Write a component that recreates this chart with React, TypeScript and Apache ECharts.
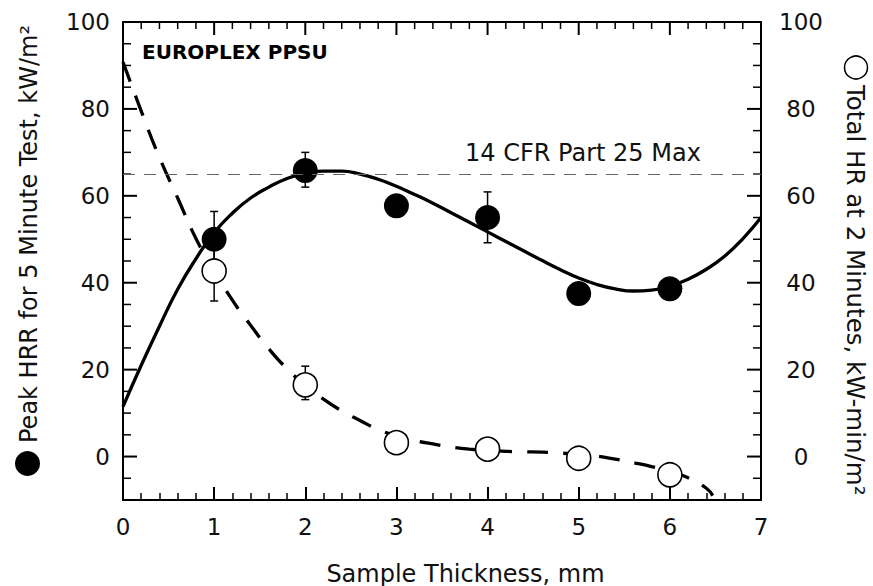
import React, { useEffect, useRef } from 'react';
import * as echarts from 'echarts';

// Measured data points
const thickness = [1, 2, 3, 4, 5, 6];
const peakHRR = [50.0, 65.8, 57.7, 55.0, 37.5, 38.6];
const totalHR = [42.7, 16.5, 3.2, 1.7, -0.4, -4.2];

// Error bars
const peakErrX = [1, 2, 4];
const peakErrLow = [43.6, 62.0, 49.2];
const peakErrHigh = [56.4, 70.0, 60.9];
const totalErrX = [1, 2];
const totalErrLow = [35.8, 13.1];
const totalErrHigh = [49.6, 20.8];

// Fitted curves
const peakFitX = [0, 0.2, 0.4, 0.6, 0.8, 1.0, 1.2, 1.4, 1.6, 1.8, 2.0, 2.2, 2.4, 2.6, 2.8, 3.0, 3.2, 3.4, 3.6, 3.8, 4.0, 4.2, 4.4, 4.6, 4.8, 5.0, 5.2, 5.4, 5.6, 5.8, 6.0, 6.2, 6.4, 6.6, 6.8, 7.0];
const peakFitY = [11.5, 21, 30, 38.5, 45.5, 51.5, 56, 59.5, 62, 64, 65.2, 65.7, 65.7, 65, 63.8, 62.2, 60.3, 58.3, 56.1, 53.9, 51.7, 49.5, 47.3, 45.1, 43.0, 41.1, 39.6, 38.6, 38.1, 38.3, 39.2, 40.8, 43.1, 46.1, 50.1, 55];
const totalFitX = [0, 0.2, 0.4, 0.6, 0.8, 1.0, 1.2, 1.4, 1.6, 1.8, 2.0, 2.2, 2.4, 2.6, 2.8, 3.0, 3.2, 3.4, 3.6, 3.8, 4.0, 4.2, 4.4, 4.6, 4.8, 5.0, 5.2, 5.4, 5.6, 5.8, 6.0, 6.2, 6.4, 6.47];
const totalFitY = [90.8, 79.5, 68.8, 59.5, 50.2, 42.8, 36, 30.2, 24.8, 20.2, 16.4, 13.2, 10.5, 8.3, 6.2, 4.8, 3.7, 2.9, 2.2, 1.7, 1.4, 1.2, 1.1, 1.0, 0.8, 0.5, 0.1, -0.6, -1.4, -2.3, -3.4, -4.9, -7.3, -9.0];

const cfrLimit = 65;

// Tick positions
const yMajorTicks = [0, 20, 40, 60, 80];
const yMinorTicks = [-5, 5, 10, 15, 25, 30, 35, 45, 50, 55, 65, 70, 75, 85, 90, 95];
const xTopMajorTicks = [1, 2, 3, 4, 5, 6];
const xTopMinorTicks = [0.2, 0.4, 0.6, 0.8, 1.2, 1.4, 1.6, 1.8, 2.2, 2.4, 2.6, 2.8, 3.2, 3.4, 3.6, 3.8, 4.2, 4.4, 4.6, 4.8, 5.2, 5.4, 5.6, 5.8, 6.2, 6.4, 6.6, 6.8];

const FONT = '"DejaVu Sans", sans-serif';

const zip = (xs: number[], ys: number[]) => xs.map((x, i) => [x, ys[i]]);

const errRender = (params: any, api: any) => {
  const x = api.value(0);
  const lo = api.coord([x, api.value(1)]);
  const hi = api.coord([x, api.value(2)]);
  const w = 4;
  const st = { stroke: '#000', lineWidth: 1.5 };
  return {
    type: 'group',
    children: [
      { type: 'line', shape: { x1: lo[0], y1: lo[1], x2: hi[0], y2: hi[1] }, style: st },
      { type: 'line', shape: { x1: lo[0] - w, y1: lo[1], x2: lo[0] + w, y2: lo[1] }, style: st },
      { type: 'line', shape: { x1: hi[0] - w, y1: hi[1], x2: hi[0] + w, y2: hi[1] }, style: st },
    ],
  };
};

const xAxisBase = (pos: string, showLabel: boolean) => ({
  type: 'value',
  position: pos,
  min: 0,
  max: 7,
  interval: 1,
  axisLine: { show: true, onZero: false, lineStyle: { color: '#000', width: 2 } },
  axisTick: { show: showLabel, inside: true, length: 13, lineStyle: { color: '#000', width: 2 } },
  minorTick: { show: showLabel, splitNumber: 5, length: 7, lineStyle: { color: '#000', width: 1.5 } },
  splitLine: { show: false },
  minorSplitLine: { show: false },
  axisLabel: { show: showLabel, fontSize: 23, fontFamily: FONT, color: '#111', margin: 15 },
});

const yLabelFmt = (v: number) => (v < 0 ? '' : String(v));

const yMain = (pos: string) => ({
  type: 'value',
  position: pos,
  min: -10,
  max: 100,
  splitNumber: 5,
  axisLine: { show: true, onZero: false, lineStyle: { color: '#000', width: 2 } },
  axisTick: { show: false },
  minorTick: { show: false },
  splitLine: { show: false },
  minorSplitLine: { show: false },
  axisLabel: pos === 'left'
    ? { show: true, formatter: yLabelFmt, fontSize: 23, fontFamily: FONT, color: '#111', margin: 13 }
    : { show: true, formatter: yLabelFmt, fontSize: 23, fontFamily: FONT, color: '#111', margin: 40, align: 'center' },
});

const textGraphics = [
  { type: 'circle', shape: { cx: 27.5, cy: 463.5, r: 12.5 }, style: { fill: '#000' } },
  {
    type: 'text', x: 28.5, y: 443, rotation: Math.PI / 2,
    style: { text: 'Peak HRR for 5 Minute Test, kW/m²', fontSize: 24, fontFamily: FONT, fill: '#111', align: 'left', verticalAlign: 'middle' },
  },
  { type: 'circle', shape: { cx: 856, cy: 67.5, r: 11.5 }, style: { fill: '#fff', stroke: '#000', lineWidth: 1.5 } },
  {
    type: 'text', x: 855, y: 85, rotation: -Math.PI / 2,
    style: { text: 'Total HR at 2 Minutes, kW-min/m²', fontSize: 24.5, fontFamily: FONT, fill: '#111', align: 'left', verticalAlign: 'middle' },
  },
  {
    type: 'text', x: 465.5, y: 573.5,
    style: { text: 'Sample Thickness, mm', fontSize: 24, fontFamily: FONT, fill: '#111', align: 'center', verticalAlign: 'middle' },
  },
  {
    type: 'text', x: 142, y: 51.5,
    style: { text: 'EUROPLEX PPSU', fontSize: 20, fontWeight: 'bold', fontFamily: FONT, fill: '#000', align: 'left', verticalAlign: 'middle' },
  },
  {
    type: 'text', x: 465, y: 152.5,
    style: { text: '14 CFR Part 25 Max', fontSize: 24, fontFamily: FONT, fill: '#111', align: 'left', verticalAlign: 'middle' },
  },
];

export default function App() {
  const ref = useRef<HTMLDivElement>(null);
  useEffect(() => {
    if (!ref.current) return;
    const chart = echarts.init(ref.current, undefined, { renderer: 'svg' });
    chart.setOption({
      animation: false,
      backgroundColor: '#fff',
      grid: { left: 123, right: 112, top: 22, bottom: 86 },
      xAxis: [xAxisBase('bottom', true), xAxisBase('top', false)],
      yAxis: [yMain('left'), yMain('right')],
      series: [
        {
          type: 'line',
          name: 'Peak HRR fit',
          data: zip(peakFitX, peakFitY),
          smooth: true,
          showSymbol: false,
          lineStyle: { color: '#000', width: 3.3 },
          markLine: {
            silent: true,
            symbol: ['none', 'none'],
            label: { show: false },
            lineStyle: { color: '#666', width: 1.2, type: [12, 9] },
            data: [{ yAxis: cfrLimit }],
          },
          z: 2,
        },
        {
          type: 'line',
          name: 'Total HR fit',
          data: zip(totalFitX, totalFitY),
          smooth: true,
          showSymbol: false,
          lineStyle: { color: '#000', width: 3.3, type: [21, 15] },
          z: 2,
        },
        {
          type: 'custom',
          name: 'Peak HRR error',
          renderItem: errRender,
          encode: { x: 0, y: [1, 2] },
          data: peakErrX.map((x, i) => [x, peakErrLow[i], peakErrHigh[i]]),
          z: 3,
        },
        {
          type: 'custom',
          name: 'Total HR error',
          renderItem: errRender,
          encode: { x: 0, y: [1, 2] },
          data: totalErrX.map((x, i) => [x, totalErrLow[i], totalErrHigh[i]]),
          z: 3,
        },
        {
          type: 'scatter',
          name: 'Peak HRR for 5 Minute Test',
          data: zip(thickness, peakHRR),
          symbol: 'circle',
          symbolSize: 25,
          itemStyle: { color: '#000', opacity: 1 },
          z: 4,
        },
        {
          type: 'scatter',
          name: 'Total HR at 2 Minutes',
          data: zip(thickness, totalHR),
          symbol: 'circle',
          symbolSize: 24,
          itemStyle: { color: '#fff', borderColor: '#000', borderWidth: 1.6, opacity: 1 },
          z: 4,
        },
      ],
    });

    // Tick marks for left/right/top frame edges, placed through the axes' scales
    const toPx = (x: number, y: number) => chart.convertToPixel({ xAxisIndex: 0, yAxisIndex: 0 }, [x, y]) as number[];
    const left = toPx(0, 0)[0];
    const right = toPx(7, 0)[0];
    const top = toPx(0, 100)[1];
    const ticks: any[] = [];
    const yTick = (v: number, len: number, w: number) => {
      const y = toPx(0, v)[1];
      ticks.push({ type: 'line', silent: true, shape: { x1: left, y1: y, x2: left + len, y2: y }, style: { stroke: '#000', lineWidth: w } });
      ticks.push({ type: 'line', silent: true, shape: { x1: right, y1: y, x2: right - len, y2: y }, style: { stroke: '#000', lineWidth: w } });
    };
    yMajorTicks.forEach((v) => yTick(v, 14, 2));
    yMinorTicks.forEach((v) => yTick(v, 8, 1.5));
    const xTick = (v: number, len: number, w: number) => {
      const x = toPx(v, 0)[0];
      ticks.push({ type: 'line', silent: true, shape: { x1: x, y1: top, x2: x, y2: top + len }, style: { stroke: '#000', lineWidth: w } });
    };
    xTopMajorTicks.forEach((v) => xTick(v, 13, 2));
    xTopMinorTicks.forEach((v) => xTick(v, 7, 1.5));

    chart.setOption({ graphic: [...ticks, ...textGraphics] });
    return () => chart.dispose();
  }, []);
  return <div ref={ref} style={{ position: 'fixed', left: 0, top: 0, width: 873, height: 586 }} />;
}
